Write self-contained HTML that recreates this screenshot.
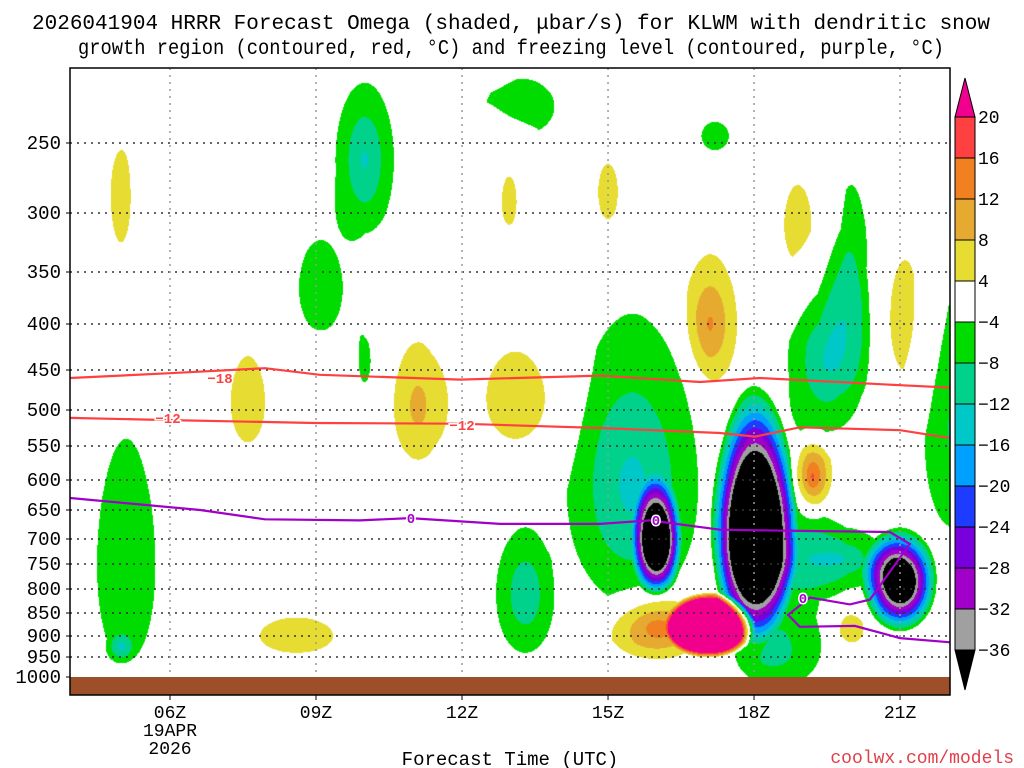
<!DOCTYPE html>
<html><head><meta charset="utf-8"><style>
body{margin:0;background:#fff;width:1024px;height:768px;overflow:hidden;position:relative;font-family:"Liberation Mono",monospace}
#cv{position:absolute;left:70px;top:68px}
#ov{position:absolute;left:0;top:0}
</style></head><body>
<canvas id="cv" width="880" height="609"></canvas>
<svg id="ov" width="1024" height="768" font-family="Liberation Mono, monospace"></svg>
<script>
const ticksP=[250,300,350,400,450,500,550,600,650,700,750,800,850,900,950,1000];
const ticksY=[143,213,272,324,370,410,446,480,510,539,564,589,613,636,657,677];
const xHours=[6,9,12,15,18,21];
const xLabels=["06Z","09Z","12Z","15Z","18Z","21Z"];
// omega blobs: time(h), pressure(hPa), half-width(h), half-height(hPa), peak(ubar/s)
const blobT=[5.1,5.0,5.0,10.0,9.1,13.2,12.97,15.0,17.2,7.6,10.0,11.1,13.1,8.6,17.1,18.9,21.1,19.5,20.0,16.0,15.5,18.0,18.6,21.0,19.8,16.0,17.1,13.3,19.2,20.0,22.1,18.3];
const blobP=[750,925,300,262,365,224,292,285,245,490,440,495,485,900,400,310,395,440,350,705,610,690,760,785,740,880,880,810,595,885,530,960];
const blobDT=[0.6,0.2,0.25,0.6,0.45,0.7,0.15,0.2,0.28,0.35,0.12,0.5,0.6,0.75,0.55,0.28,0.3,0.8,0.35,0.5,1.35,0.87,0.8,0.75,0.9,1.0,0.9,0.6,0.42,0.25,0.6,0.6];
const blobDP=[210,25,45,55,42,20,18,20,10,55,25,75,55,40,65,30,55,90,70,110,220,220,180,105,60,75,72,130,60,30,150,40];
const blobV=[-7,-10,6,-13,-7,-7,5,5,-5,5.5,-6,10,6,6,13,5.5,6,-13,-8,-60,-14,-80,-10,-60,-12,16,120,-12,20,8,-9,-6];
const levels=[-36,-32,-28,-24,-20,-16,-12,-8,-4,4,8,12,16,20];
const colors=["#000000","#a0a0a0","#a000c8","#7800dc","#1e3cff","#00a0ff","#00c8c8","#00d28c","#00dc00","#ffffff","#e6dc32","#e6aa30","#f08020","#ff4040","#f0008c"];
// temperature contours (hour, pressure)
const m18T=[3.95,6,7.95,9.08,11.96,14.84,16.89,18.12,21.0,22.03];
const m18P=[460,454,448,456,462,457,465,460,469,472];
const m12T=[3.95,6,8.98,11.96,14.84,17.3,18.02,18.94,21,22.03];
const m12P=[511,514,518,519,525,532,537,524,528,539];
const fzT=[3.95,6.62,7.95,9.9,10.93,12.78,14.84,15.86,17.3,18.94,20.79,21.2,20.38,19.97,19.15,18.7,18.94,20.07,21.0,22.03];
const fzP=[630,650,666,668,664,674,674,668,684,686,688,710,822,832,818,854,880,878,905,915];

function p2y(p){
  if(p<=250) return 143-(250-p)*70/50;
  for(let i=0;i<ticksP.length-1;i++){if(p<=ticksP[i+1]){const f=(p-ticksP[i])/(ticksP[i+1]-ticksP[i]);return ticksY[i]+f*(ticksY[i+1]-ticksY[i]);}}
  return 677+(p-1000)*20/50;
}
function y2p(y){
  if(y<=143) return 250-(143-y)*50/70;
  for(let i=0;i<ticksY.length-1;i++){if(y<=ticksY[i+1]){const f=(y-ticksY[i])/(ticksY[i+1]-ticksY[i]);return ticksP[i]+f*(ticksP[i+1]-ticksP[i]);}}
  return 1000;
}
function h2x(h){return 170+(h-6)*48.67;}
function x2h(x){return 6+(x-170)/48.67;}
function hex(c){return [parseInt(c.substr(1,2),16),parseInt(c.substr(3,2),16),parseInt(c.substr(5,2),16)];}
const rgb=colors.map(hex);

const cv=document.getElementById('cv'),ctx=cv.getContext('2d');
const W=880,H=609,img=ctx.createImageData(W,H);
const pr=[];for(let j=0;j<H;j++)pr.push(y2p(68+j+0.5));
const R=blobV.map(v=>1/(1-4/Math.abs(v)));
for(let i=0;i<W;i++){const h=x2h(70+i+0.5);
  for(let j=0;j<H;j++){const p=pr[j];let v=0;
    for(let b=0;b<blobV.length;b++){const dt=(h-blobT[b])/(blobDT[b]*R[b]);if(dt>1||dt<-1)continue;const dp=(p-blobP[b])/(blobDP[b]*R[b]);const r=Math.sqrt(dt*dt+dp*dp);if(r<1)v+=blobV[b]*(1-r);}
    let k=levels.length;for(let l=0;l<levels.length;l++){if(v<levels[l]){k=l;break;}}
    const c=rgb[k],o=(j*W+i)*4;img.data[o]=c[0];img.data[o+1]=c[1];img.data[o+2]=c[2];img.data[o+3]=255;}}
ctx.putImageData(img,0,0);

const svg=document.getElementById('ov');const NS="http://www.w3.org/2000/svg";
function el(t,a,parent){const e=document.createElementNS(NS,t);for(const k in a)e.setAttribute(k,a[k]);(parent||svg).appendChild(e);return e;}
let g=el('rect',{x:70,y:677,width:880,height:18,fill:'#9c4f28'});


ticksP.slice(0,15).forEach(p=>{const y=p2y(p);let l=el('line',{x1:70,x2:950,y1:y,y2:y,stroke:'#333','stroke-width':1.5,'stroke-dasharray':'2 5'});

});
xHours.forEach(h=>{const x=h2x(h);let l=el('line',{x1:x,x2:x,y1:68,y2:677,stroke:'#999','stroke-width':1.5,'stroke-dasharray':'2 5'});

});
function line(T,P,color,name){const d=T.map((t,i)=>(i?'L':'M')+h2x(t).toFixed(1)+' '+p2y(P[i]).toFixed(1)).join(' ');const e=el('path',{d:d,fill:'none',stroke:color,'stroke-width':2.2});

}
line(m18T,m18P,'#ff4040','contour-minus18');
line(m12T,m12P,'#ff4040','contour-minus12');
line(fzT,fzP,'#a000c8','freezing-level');
function lab(x,y,t,c,name){const e=el('text',{x:x,y:y+5,'text-anchor':'middle','font-size':14,'font-weight':'bold',fill:c,stroke:'#fff','stroke-width':3,'paint-order':'stroke'});e.textContent=t;

}
lab(220,378,'−18','#ff4040','label-minus18');
lab(168,418,'−12','#ff4040','label-minus12-a');
lab(462,425,'−12','#ff4040','label-minus12-b');
lab(411,518,'0','#a000c8','label-zero-a');
lab(656,520,'0','#a000c8','label-zero-b');
lab(803,598,'0','#a000c8','label-zero-c');
g=el('rect',{x:70,y:68,width:880,height:627,fill:'none',stroke:'#000','stroke-width':1.5});


ticksP.forEach(p=>{const t=el('text',{x:61,y:p2y(p)+6,'text-anchor':'end','font-size':19,fill:'#000'});t.textContent=p;


el('line',{x1:66,x2:70,y1:p2y(p),y2:p2y(p),stroke:'#000'});});
xHours.forEach((h,i)=>{const t=el('text',{x:h2x(h),y:718,'text-anchor':'middle','font-size':18,fill:'#000'});t.textContent=xLabels[i];


el('line',{x1:h2x(h),x2:h2x(h),y1:695,y2:700,stroke:'#000'});});
let t=el('text',{x:170,y:736,'text-anchor':'middle','font-size':18});t.textContent='19APR';


t=el('text',{x:170,y:754,'text-anchor':'middle','font-size':18});t.textContent='2026';


t=el('text',{x:510,y:765,'text-anchor':'middle','font-size':19});t.textContent='Forecast Time (UTC)';


t=el('text',{x:1014,y:763,'text-anchor':'end','font-size':18,fill:'#e0404a'});t.textContent='coolwx.com/models';


t=el('text',{x:511,y:29,'text-anchor':'middle','font-size':21,textLength:958,lengthAdjust:'spacingAndGlyphs'});t.textContent='2026041904 HRRR Forecast Omega (shaded, μbar/s) for KLWM with dendritic snow';


t=el('text',{x:511,y:54,'text-anchor':'middle','font-size':21,textLength:866,lengthAdjust:'spacingAndGlyphs'});t.textContent='growth region (contoured, red, °C) and freezing level (contoured, purple, °C)';


const cbTop=117,step=41,cbx=955,cbw=20;
const cbColors=colors.slice(1,14).reverse();
cbColors.forEach((c,i)=>{const r=el('rect',{x:cbx,y:cbTop+i*step,width:cbw,height:step,fill:c,stroke:'#000','stroke-width':1});

});
g=el('polygon',{points:`${cbx},${cbTop} ${cbx+cbw},${cbTop} ${cbx+cbw/2},78`,fill:'#f0008c',stroke:'#000'});


const cbBot=cbTop+13*step;
g=el('polygon',{points:`${cbx},${cbBot} ${cbx+cbw},${cbBot} ${cbx+cbw/2},690`,fill:'#000',stroke:'#000'});


levels.slice().reverse().forEach((v,i)=>{const tt=el('text',{x:978,y:cbTop+i*step+6,'font-size':18});tt.textContent=(v<0?'−':'')+Math.abs(v);

});
</script>
</body></html>
